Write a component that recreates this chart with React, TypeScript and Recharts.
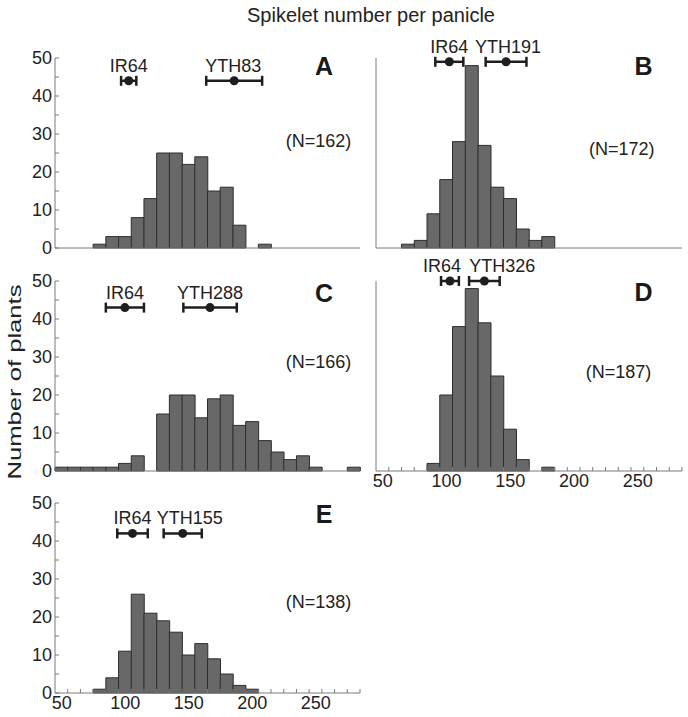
import React from 'react';
import { ComposedChart, Bar, Scatter, ErrorBar, XAxis, YAxis } from 'recharts';

// histogram bins (lower edge, width 10)
const bins = [40, 50, 60, 70, 80, 90, 100, 110, 120, 130, 140, 150, 160, 170, 180, 190, 200, 210, 220, 230, 240, 250, 260, 270];

const countsA = [0, 0, 0, 1, 3, 3, 8, 13, 25, 25, 22, 24, 15, 16, 6, 0, 1, 0, 0, 0, 0, 0, 0, 0];
const countsB = [0, 0, 1, 2, 9, 18, 28, 48, 27, 16, 13, 5, 2, 3, 0, 0, 0, 0, 0, 0, 0, 0, 0, 0];
const countsC = [1, 1, 1, 1, 1, 2, 4, 0, 15, 20, 20, 14, 19, 20, 12, 13, 8, 5, 3, 4, 1, 0, 0, 1];
const countsD = [0, 0, 0, 0, 2, 20, 38, 48, 39, 25, 11, 3, 0, 1, 0, 0, 0, 0, 0, 0, 0, 0, 0, 0];
const countsE = [0, 0, 0, 1, 4, 11, 26, 21, 19, 16, 10, 13, 9, 5, 2, 1, 0, 0, 0, 0, 0, 0, 0, 0];

// parent means +/- sd
const parentsA = [{ name: 'IR64', mean: 98, sd: 6, y: 44 }, { name: 'YTH83', mean: 181, sd: 22, y: 44 }];
const parentsB = [{ name: 'IR64', mean: 97.5, sd: 11, y: 49 }, { name: 'YTH191', mean: 142, sd: 16, y: 49 }];
const parentsC = [{ name: 'IR64', mean: 95, sd: 15, y: 43 }, { name: 'YTH288', mean: 162, sd: 21, y: 43 }];
const parentsD = [{ name: 'IR64', mean: 98, sd: 7, y: 50 }, { name: 'YTH326', mean: 125, sd: 12, y: 50 }];
const parentsE = [{ name: 'IR64', mean: 101, sd: 12, y: 42 }, { name: 'YTH155', mean: 140.5, sd: 15, y: 42 }];

const xTicks = [50, 60, 70, 80, 90, 100, 110, 120, 130, 140, 150, 160, 170, 180, 190, 200, 210, 220, 230, 240, 250, 260, 270, 280];
const yTicks = [0, 5, 10, 15, 20, 25, 30, 35, 40, 45, 50];

const FONT = 'Liberation Sans, Arial, sans-serif';
const AXIS = '#7a7a7a';

const panels = [
  { id: 'A', counts: countsA, parents: parentsA, n: 162, left: 0, top: 30, side: 'left', xLabels: false, letterDy: 17, nX: 318.5, nDy: 89, nudge: [0, -1] },
  { id: 'B', counts: countsB, parents: parentsB, n: 172, left: 366, top: 30, side: 'right', xLabels: false, letterDy: 17, nX: 255.7, nDy: 97, nudge: [0, 2] },
  { id: 'C', counts: countsC, parents: parentsC, n: 166, left: 0, top: 253, side: 'left', xLabels: false, letterDy: 21, nX: 318.5, nDy: 87, nudge: [0, 0] },
  { id: 'D', counts: countsD, parents: parentsD, n: 187, left: 366, top: 253, side: 'right', xLabels: true, letterDy: 20, nX: 252.5, nDy: 97, nudge: [-8, 18] },
  { id: 'E', counts: countsE, parents: parentsE, n: 138, left: 0, top: 475, side: 'left', xLabels: true, letterDy: 20, nX: 318.5, nDy: 105, nudge: [0, 7] },
];

const XTick = ({ x, y, payload }: any) =>
  payload.value % 50 === 0 ? (
    <text x={x - 6} y={y} dy="0.71em" textAnchor="middle" fontSize={18} fill="#222" fontFamily={FONT}>
      {payload.value}
    </text>
  ) : (
    <g />
  );

const YTick = ({ x, y, payload }: any) =>
  payload.value % 10 === 0 ? (
    <text x={x} y={y} dy="0.36em" textAnchor="end" fontSize={18} fill="#222" fontFamily={FONT}>
      {payload.value}
    </text>
  ) : (
    <g />
  );

function Panel({ p }: { p: any }) {
  const isLeft = p.side === 'left';
  const width = isLeft ? 370 : 320;
  const height = 242;
  const data = bins.map((b, i) => ({ bin: b, count: p.counts[i] }));
  const marks = p.parents.map((m: any, i: number) => ({ x: m.mean, y: m.y, sd: m.sd, name: m.name, nudge: p.nudge[i] }));

  const marker = (props: any) => {
    const { cx, cy, payload } = props;
    return (
      <g>
        <circle cx={cx} cy={cy} r={4.5} fill="#1e1e1e" />
        <text x={cx + payload.nudge} y={cy - 9} textAnchor="middle" fontSize={18} fill="#222" fontFamily={FONT}>
          {payload.name}
        </text>
      </g>
    );
  };

  return (
    <div style={{ position: 'absolute', left: p.left, top: p.top, width, height }}>
      <ComposedChart
        width={width}
        height={height}
        data={data}
        margin={{ top: 28, right: isLeft ? 10 : 4, bottom: 0, left: 0 }}
        barCategoryGap={0}
        barGap={0}
      >
        <XAxis
          xAxisId="num"
          dataKey="x"
          type="number"
          domain={[40, 280]}
          ticks={xTicks}
          interval={0}
          height={24}
          stroke={AXIS}
          tickSize={-4}
          tickMargin={7}
          tick={p.xLabels ? <XTick /> : false}
        />
        <XAxis xAxisId="cat" dataKey="bin" type="category" height={0} hide />
        <YAxis
          type="number"
          domain={[0, 50]}
          ticks={yTicks}
          interval={0}
          width={isLeft ? 55 : 10}
          stroke={AXIS}
          tickSize={-4}
          tickMargin={7}
          tick={isLeft ? <YTick /> : false}
        />
        <Bar xAxisId="cat" dataKey="count" fill="#686868" stroke="#2e2e2e" strokeWidth={1} isAnimationActive={false} />
        <Scatter xAxisId="num" data={marks} dataKey="y" shape={marker} isAnimationActive={false}>
          <ErrorBar dataKey="sd" direction="x" width={5} stroke="#1e1e1e" strokeWidth={2.5} />
        </Scatter>
      </ComposedChart>
      <svg width={width} height={height} style={{ position: 'absolute', left: 0, top: 0, pointerEvents: 'none' }}>
        <text x={isLeft ? 324 : 277.5} y={28 + p.letterDy} textAnchor="middle" fontSize={25} fontWeight="bold" fill="#1a1a1a" fontFamily={FONT}>
          {p.id}
        </text>
        <text x={p.nX} y={28 + p.nDy} textAnchor="middle" fontSize={18} fill="#222" fontFamily={FONT}>
          (N={p.n})
        </text>
      </svg>
    </div>
  );
}

export default function App() {
  return (
    <div style={{ position: 'absolute', left: 0, top: 0, width: 688, height: 717, background: '#fff', fontFamily: FONT }}>
      <svg width={688} height={717} style={{ position: 'absolute', left: 0, top: 0 }}>
        <text x={371} y={22} textAnchor="middle" fontSize={20} fill="#222" fontFamily={FONT}>
          Spikelet number per panicle
        </text>
        <text
          x={0}
          y={0}
          transform="translate(21, 382) rotate(-90)"
          textAnchor="middle"
          fontSize={19}
          textLength={195}
          lengthAdjust="spacingAndGlyphs"
          fill="#222"
          fontFamily={FONT}
        >
          Number of plants
        </text>
      </svg>
      {panels.map((p) => (
        <Panel key={p.id} p={p} />
      ))}
    </div>
  );
}
